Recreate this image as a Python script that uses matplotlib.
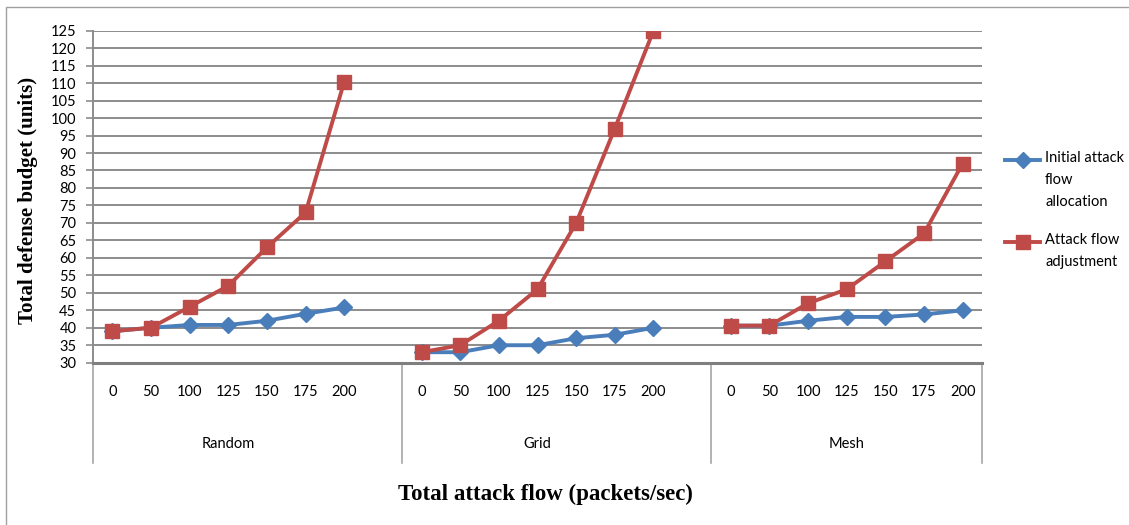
import numpy as np
import matplotlib.pyplot as plt
from matplotlib.lines import Line2D
from matplotlib.patches import Rectangle
from matplotlib.transforms import blended_transform_factory

# data
groups = ["Random", "Grid", "Mesh"]
flows = ["0", "50", "100", "125", "150", "175", "200"]

initial_alloc = {
    "Random": [39, 40, 40.8, 40.8, 42, 44, 45.8],
    "Grid":   [33, 33, 35, 35, 37, 38, 40],
    "Mesh":   [40.6, 40.6, 42, 43.1, 43.1, 43.8, 45],
}
adjustment = {
    "Random": [39, 40, 46, 52, 63, 73, 110.4],
    "Grid":   [33, 35, 42, 51, 70, 97, 125],
    "Mesh":   [40.6, 40.6, 47, 51, 59, 67, 87],
}

blue = "#4A7EBB"
red = "#BE4B48"
grid_gray = "#8C8C8C"
tick_font = "Lato"
label_font = "Liberation Serif"

fig = plt.figure(figsize=(11.29, 5.25), dpi=100)
ax = fig.add_axes([93/1129, 1 - 362.7/525, (982-93)/1129, (362.7-30.7)/525])

# each group takes 7 slots plus one empty slot between groups
slot = len(flows) + 1
n_slots = slot * len(groups) - 1

for gi, g in enumerate(groups):
    xs = np.arange(len(flows)) + gi * slot
    ax.plot(xs, initial_alloc[g], color=blue, lw=2.8, marker="D", ms=8.5,
            mfc=blue, mec=blue, zorder=3)
    ax.plot(xs, adjustment[g], color=red, lw=2.8, marker="s", ms=10.5,
            mfc=red, mec=red, zorder=4)

ax.set_xlim(-0.5, n_slots - 0.5)
ax.set_ylim(30, 125)
ax.set_yticks(np.arange(30, 126, 5))
ax.yaxis.grid(True, color=grid_gray, lw=1.4)
ax.set_axisbelow(True)

for s in ["top", "right"]:
    ax.spines[s].set_visible(False)
ax.spines["left"].set_color(grid_gray)
ax.spines["left"].set_linewidth(1.4)
ax.spines["bottom"].set_color("#7F7F7F")
ax.spines["bottom"].set_linewidth(2.2)

ax.tick_params(axis="y", direction="out", length=5, width=1.2, color=grid_gray,
               pad=7, labelsize=10.5)
for lab in ax.get_yticklabels():
    lab.set_fontfamily(tick_font)
ax.set_xticks([])

# two-level category axis
tr = blended_transform_factory(ax.transData, ax.transAxes)
axis_depth = -100 / 332
for gi, g in enumerate(groups):
    xs = np.arange(len(flows)) + gi * slot
    for x, f in zip(xs, flows):
        ax.text(x, -0.088, f, transform=tr, ha="center", va="center",
                fontsize=10.5, family=tick_font, clip_on=False)
    ax.text(xs.mean(), -0.245, g, transform=tr, ha="center", va="center",
            fontsize=10.5, family=tick_font, clip_on=False)
for xb in [-0.5, slot - 0.5, 2 * slot - 0.5, n_slots - 0.5]:
    ax.plot([xb, xb], [0, axis_depth], transform=tr, color="#A6A6A6",
            lw=1.2, clip_on=False)

# axis titles
fig.text(28/1129, 1 - 200/525, "Total defense budget (units)", rotation=90,
         ha="center", va="center", fontsize=15, fontweight="bold",
         family=label_font)
fig.text(545/1129, 1 - 494/525, "Total attack flow (packets/sec)",
         ha="center", va="center", fontsize=16.5, fontweight="bold",
         family=label_font)

# legend
legend_items = [
    (160, blue, "D", 8.5, "Initial attack\nflow\nallocation"),
    (242, red, "s", 10.5, "Attack flow\nadjustment"),
]
for y, c, m, ms, txt in legend_items:
    yf = 1 - y / 525
    fig.add_artist(Line2D([1005/1129, 1040/1129], [yf, yf], color=c, lw=2.8,
                          transform=fig.transFigure))
    fig.add_artist(Line2D([1022.5/1129], [yf], color=c, marker=m, ms=ms,
                          mfc=c, mec=c, transform=fig.transFigure))
    fig.text(1045/1129, yf + 9/525, txt, ha="left", va="top", fontsize=10.5,
             family=tick_font, linespacing=1.75)

# chart border
fig.add_artist(Rectangle((6/1129, -0.1), 1.2, 1.1 - 7/525, fill=False,
                         edgecolor="#A0A0A0", lw=1.0, transform=fig.transFigure))

fig.savefig("out.png", dpi=100)
